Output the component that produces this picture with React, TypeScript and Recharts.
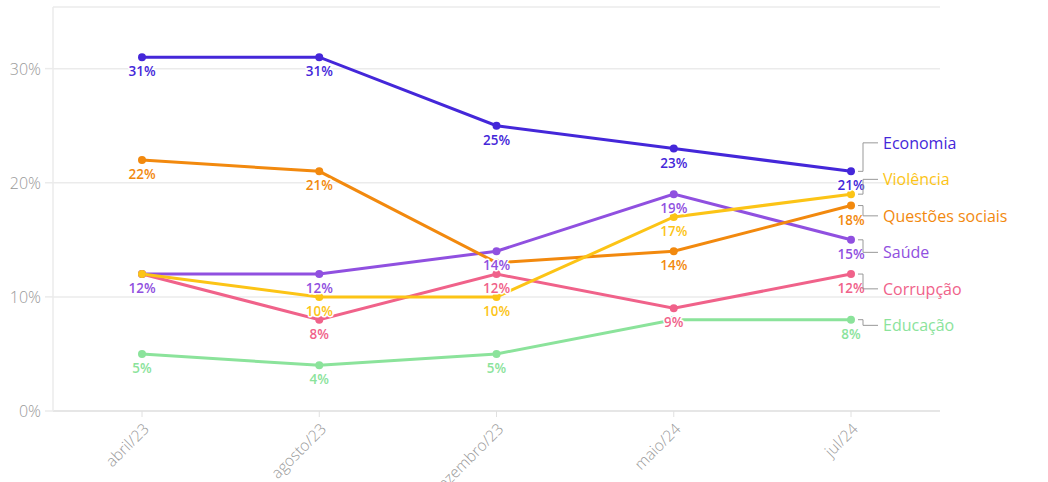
import React from 'react';
import { LineChart, Line, XAxis, YAxis, CartesianGrid, LabelList } from 'recharts';

const categories = ['abril/23', 'agosto/23', 'dezembro/23', 'maio/24', 'jul/24'];
const economia = [31, 31, 25, 23, 21];
const questoesSociais = [22, 21, 13, 14, 18];
const saude = [12, 12, 14, 19, 15];
const violencia = [12, 10, 10, 17, 19];
const corrupcao = [12, 8, 12, 9, 12];
const educacao = [5, 4, 5, 8, 8];
const yTicks = [0, 10, 20, 30];

// Value labels that are suppressed in the reference (to avoid overlaps)
const hiddenEconomia: number[] = [];
const hiddenQuestoes = [2];
const hiddenSaude: number[] = [];
const hiddenViolencia = [0, 4];
const hiddenCorrupcao = [0];
const hiddenEducacao = [3];

type Series = { key: string; name: string; values: number[]; color: string; hidden: number[] };

// drawing order (first = bottom)
const series: Series[] = [
  { key: 'educacao', name: 'Educação', values: educacao, color: '#8be39b', hidden: hiddenEducacao },
  { key: 'corrupcao', name: 'Corrupção', values: corrupcao, color: '#f0628a', hidden: hiddenCorrupcao },
  { key: 'saude', name: 'Saúde', values: saude, color: '#9050e0', hidden: hiddenSaude },
  { key: 'questoes', name: 'Questões sociais', values: questoesSociais, color: '#f2890e', hidden: hiddenQuestoes },
  { key: 'violencia', name: 'Violência', values: violencia, color: '#fcc416', hidden: hiddenViolencia },
  { key: 'economia', name: 'Economia', values: economia, color: '#4427d9', hidden: hiddenEconomia },
];

const data = categories.map((cat, i) => {
  const row: Record<string, string | number> = { cat };
  series.forEach((s) => {
    row[s.key] = s.values[i];
  });
  return row;
});

const FONT = '"Open Sans", "Noto Sans", sans-serif';
const LABEL_GAP = 36.5;

const XTick = (props: any) => {
  const { x, y, payload } = props;
  return (
    <g transform={`translate(${x + 8},${y + 11})`}>
      <text
        x={0}
        y={0}
        transform="rotate(-45)"
        textAnchor="end"
        fill="#999"
        fontSize={15.5}
        fontFamily={FONT}
        fontWeight={300}
      >
        {payload.value}
      </text>
    </g>
  );
};

const YTick = (props: any) => {
  const { x, y, payload } = props;
  return (
    <text x={x} y={y} dy={6} textAnchor="end" fill="#999" fontSize={16} fontFamily={FONT} fontWeight={300}>
      {payload.value}%
    </text>
  );
};

function repel(items: { y: number; idx: number }[], gap: number) {
  const sorted = [...items].sort((a, b) => a.y - b.y);
  type Cl = { members: { y: number; idx: number }[]; center: number };
  let clusters: Cl[] = sorted.map((m) => ({ members: [m], center: m.y }));
  let changed = true;
  while (changed) {
    changed = false;
    for (let i = 0; i < clusters.length - 1; i++) {
      const a = clusters[i];
      const b = clusters[i + 1];
      const aBottom = a.center + ((a.members.length - 1) * gap) / 2;
      const bTop = b.center - ((b.members.length - 1) * gap) / 2;
      if (bTop - aBottom < gap) {
        const members = [...a.members, ...b.members];
        const center = members.reduce((s, m) => s + m.y, 0) / members.length;
        clusters.splice(i, 2, { members, center });
        changed = true;
        break;
      }
    }
  }
  const out: Record<number, number> = {};
  clusters.forEach((c) => {
    const start = c.center - ((c.members.length - 1) * gap) / 2;
    c.members.forEach((m, k) => {
      out[m.idx] = start + k * gap;
    });
  });
  return out;
}

export default function App() {
  const seen: Record<string, { x: number; y: number; v: number }[]> = {};

  const makeLabel = (s: Series, withNames: boolean) => (props: any) => {
    const x = props.x ?? props.viewBox?.x;
    const y = props.y ?? props.viewBox?.y;
    const index = props.index as number;
    const value = props.value as number;
    if (x == null || y == null) return null;
    if (!seen[s.key]) seen[s.key] = [];
    seen[s.key][index] = { x, y, v: value };
    const last = s.values.length - 1;
    const parts: React.ReactNode[] = [];
    if (!s.hidden.includes(index)) {
      parts.push(
        <text
          key="v"
          x={x}
          y={y + 14}
          dominantBaseline="central"
          textAnchor="middle"
          fill={s.color}
          fontSize={13.5}
          fontWeight={600}
          fontFamily={FONT}
          stroke="#fff"
          strokeWidth={3}
          strokeLinejoin="round"
          paintOrder="stroke"
        >
          {value}%
        </text>
      );
    }
    if (withNames && index === last) {
      const first = seen[s.key][0];
      if (first && first.v !== value) {
        const pxPerUnit = (y - first.y) / (first.v - value);
        const items = series.map((ss, idx) => ({
          y: y + (value - ss.values[last]) * pxPerUnit,
          idx,
        }));
        const pos = repel(items, LABEL_GAP);
        series.forEach((ss, idx) => {
          const py = items[idx].y;
          const ly = pos[idx];
          parts.push(
            <g key={'n' + ss.key}>
              <polyline
                points={`${x + 7},${py} ${x + 12},${py} ${x + 12},${ly} ${x + 27},${ly}`}
                fill="none"
                stroke="#999"
                strokeWidth={1}
              />
              <text
                x={x + 32}
                y={ly}
                dominantBaseline="central"
                fill={ss.color}
                fontSize={16}
                fontWeight={500}
                fontFamily={FONT}
              >
                {ss.name}
              </text>
            </g>
          );
        });
      }
    }
    return <g>{parts}</g>;
  };

  return (
    <div style={{ position: 'absolute', left: 0, top: 0, background: '#fff' }}>
      <LineChart width={1048} height={482} data={data} margin={{ top: 7, right: 108, bottom: 0, left: 0 }}>
        <CartesianGrid vertical={false} stroke="#ebebeb" strokeWidth={1.5} />
        <XAxis
          dataKey="cat"
          padding={{ left: 89, right: 89 }}
          axisLine={{ stroke: '#e6e6e6', strokeWidth: 2 }}
          tickLine={{ stroke: '#e0e0e0' }}
          tickSize={6}
          tick={<XTick />}
          interval={0}
          height={71}
        />
        <YAxis
          domain={[0, 35.4]}
          ticks={yTicks}
          width={53}
          axisLine={{ stroke: '#ebebeb', strokeWidth: 1.5 }}
          tickLine={{ stroke: '#ebebeb', strokeWidth: 1.5 }}
          tickSize={8}
          tickMargin={4}
          tick={<YTick />}
        />
        {series.map((s) => (
          <Line
            key={s.key}
            dataKey={s.key}
            stroke={s.color}
            strokeWidth={3}
            dot={{ r: 4, fill: s.color, stroke: 'none' }}
            activeDot={false}
            isAnimationActive={false}
          />
        ))}
        {series.map((s) => (
          <Line
            key={s.key + '-labels'}
            dataKey={s.key}
            stroke="none"
            dot={false}
            activeDot={false}
            legendType="none"
            isAnimationActive={false}
          >
            <LabelList dataKey={s.key} content={makeLabel(s, s.key === 'economia')} />
          </Line>
        ))}
      </LineChart>
    </div>
  );
}
